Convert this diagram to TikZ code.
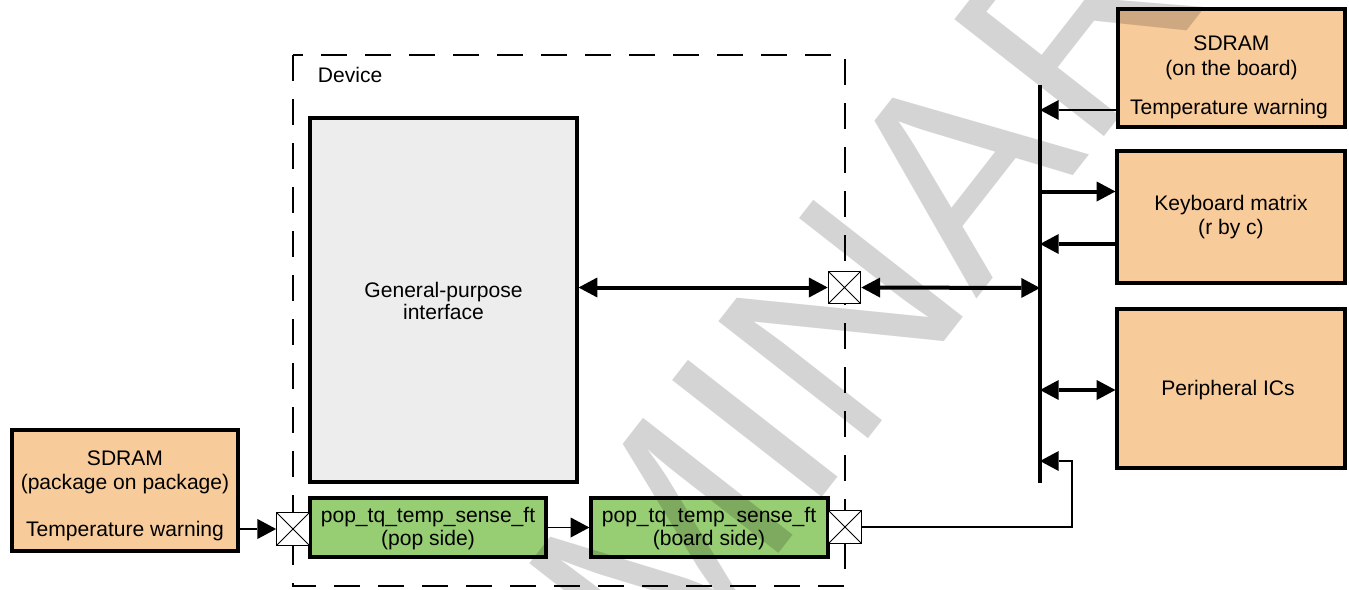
\documentclass[tikz,border=0pt]{standalone}
\usepackage{fontspec}
\setmainfont{Liberation Sans}
\usetikzlibrary{arrows.meta,calc}
\definecolor{orangebox}{HTML}{F8CB9B}
\definecolor{greenbox}{HTML}{97CD73}
\definecolor{graybox}{HTML}{EDEDED}
\tikzset{
  box/.style={draw=black, line width=2.4pt, inner sep=0pt, rectangle},
  obox/.style={box, fill=orangebox},
  gbox/.style={box, fill=greenbox},
  ibox/.style={box, fill=graybox},
  xbox/.style={draw=black, fill=white, line width=0.9pt, inner sep=0pt,
    minimum width=24.4pt, minimum height=24.4pt,
    path picture={\draw[line width=0.7pt] (path picture bounding box.south west) -- (path picture bounding box.north east)
      (path picture bounding box.north west) -- (path picture bounding box.south east);}},
  lbl/.style={anchor=base, inner sep=0pt, font=\fontsize{15.8}{19}\selectfont},
  ptip/.tip={Triangle[length=14pt,width=15pt,line width=0pt]},
  thinarr/.style={line width=0.9pt, -ptip},
  thickarr/.style={line width=3pt, -ptip},
  dblarr/.style={line width=3pt, ptip-ptip},
  busline/.style={line width=3.1pt},
  devframe/.style={line width=1.7pt, dash pattern=on 19.5pt off 13.5pt},
  wmark/.style={rotate=52, text=black, text opacity=0.17, inner sep=0pt,
    font=\fontsize{207}{207}\selectfont}
}
\begin{document}
\begin{tikzpicture}[x=0.75pt, y=-0.75pt]
\useasboundingbox (0,0) rectangle (1349,589);

% device frame
\draw[devframe] (293,55) rectangle (845,586);
\node[lbl, anchor=base west] (devlbl) at (317.7,82.7) {Device};

% boxes
\node[ibox, minimum width=200.25pt, minimum height=273pt] (gpi) at (443.5,300) {};
\node[gbox, minimum width=177pt, minimum height=44.25pt] (g1) at (428,527.5) {};
\node[gbox, minimum width=177.75pt, minimum height=44.25pt] (g2) at (709.5,527.5) {};
\node[obox, minimum width=169.5pt, minimum height=90.75pt] (sdl) at (125,490.5) {};
\node[obox, minimum width=170.25pt, minimum height=88.5pt] (sdb) at (1231.5,68) {};
\node[obox, minimum width=171pt, minimum height=99pt] (kbd) at (1231,217) {};
\node[obox, minimum width=171pt, minimum height=119.25pt] (per) at (1231,388.5) {};

% cross (pad) boxes
\node[xbox] (c1) at (293,529) {};
\node[xbox] (c2) at (845,527) {};
\node[xbox] (c3) at (844.5,287.5) {};

% labels
\node[lbl] (t1) at (443.5,297) {General-purpose};
\node[lbl] (t2) at (443.5,319) {interface};
\node[lbl] (t3) at (428,522) {pop\_tq\_temp\_sense\_ft};
\node[lbl] (t4) at (428,545) {(pop side)};
\node[lbl] (t5) at (709,522) {pop\_tq\_temp\_sense\_ft};
\node[lbl] (t6) at (709,545) {(board side)};
\node[lbl] (t7) at (125,465) {SDRAM};
\node[lbl] (t8) at (125,489.5) {(package on package)};
\node[lbl] (t9) at (125,536) {Temperature warning};
\node[lbl] (t10) at (1231.5,50.7) {SDRAM};
\node[lbl] (t11) at (1231.5,75) {(on the board)};
\node[lbl] (t12) at (1229,114) {Temperature warning};
\node[lbl] (t13) at (1231,210) {Keyboard matrix};
\node[lbl] (t14) at (1231,234) {(r by c)};
\node[lbl] (t15) at (1228,395) {Peripheral ICs};

% bus
\coordinate (bt) at (1040,85);
\coordinate (bb) at (1040,483);
\draw[busline] (bt) -- (bb);
\coordinate (p1) at (1040,110);
\coordinate (p2) at (1040,191.5);
\coordinate (p3) at (1040,244);
\coordinate (p4) at (1040,288);
\coordinate (p5) at (1040,390);
\coordinate (p6) at (1040,461);
\coordinate (fb) at (1072,461);

% connectors
\draw[thinarr] (sdl.east |- c1.west) -- (c1.west);
\draw[thinarr] (g1.east) -- (g2.west);
\draw[thinarr] (c2.east) -| (fb) -- (p6);
\draw[thinarr] (sdb.west |- p1) -- (p1);
\draw[thickarr] (p2) -- (kbd.west |- p2);
\draw[thickarr] (kbd.west |- p3) -- (p3);
\draw[dblarr] (p5) -- (per.west |- p5);
\draw[dblarr] (gpi.east |- c3.west) -- (c3.west);
\draw[dblarr] (c3.east) -- (p4);

% watermark
\node[wmark] (wm) at (674,533) {PRELIMINARY};
\end{tikzpicture}
\end{document}
